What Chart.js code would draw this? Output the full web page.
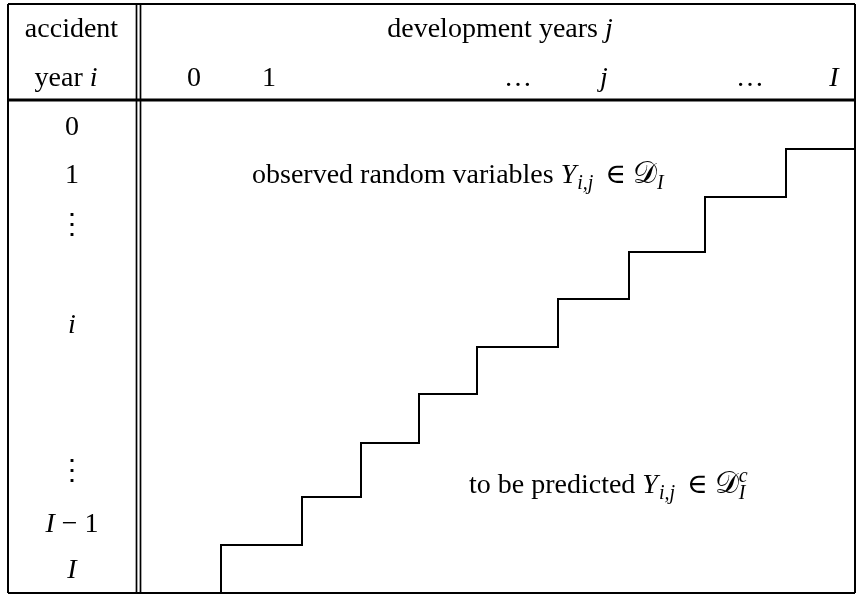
<!DOCTYPE html>
<html>
<head>
<meta charset="utf-8">
<script src="https://cdn.jsdelivr.net/npm/chart.js@4.4.0/dist/chart.umd.min.js"></script>
<style>
  html, body { margin: 0; padding: 0; background: #fff; }
  #wrap { width: 856px; height: 594px; }
</style>
</head>
<body>
<div id="wrap"><canvas id="triangle"></canvas></div>
<script>
// staircase corners: boundary between observed and to-be-predicted cells
var stepX = [221, 302, 361, 419, 477, 558, 629, 705, 786, 856];
var stepY = [593, 545, 497, 443, 394, 347, 299, 252, 197, 149];

// column headers (development years) and row headers (accident years)
var colLabels = [[['0', 'rm']], [['1', 'rm']], [['…', 'rm']], [['j', 'it']], [['…', 'rm']], [['I', 'it']]];
var colPos = [194, 269, 518, 604, 750, 834];
var rowLabels = [[['0', 'rm']], [['1', 'rm']], [['⋮', 'rm']], [['i', 'it']], [['⋮', 'rm']],
                 [['I', 'it'], [' − 1', 'rm']], [['I', 'it']]];
var rowPos = [135, 183, 233, 333, 479, 532, 578];

// table frame
var frameLeft = 8, frameRight = 855, frameTop = 4, frameBottom = 593;
var headRule = 100;
var stubRules = [136.5, 140.5];

var FONT = '"Liberation Serif", "DejaVu Serif", serif';
var SIZE = 28;

function fontFor(f, size) {
  if (f === 'it') return 'italic ' + size + 'px ' + FONT;
  if (f === 'cal') return size + 'px "DejaVu Serif", "DejaVu Sans", ' + FONT;
  return size + 'px ' + FONT;
}

// segs: [text, font, 'sub'|'sup', stacked, gapBefore]
function drawRich(ctx, segs, x0, base, align) {
  var x = 0, lastStart = 0, parts = [];
  segs.forEach(function (s) {
    var size = s[2] ? Math.round(SIZE * 0.72) : (s[1] === 'cal' ? SIZE + 2 : SIZE);
    var font = fontFor(s[1], size);
    ctx.font = font;
    var w = ctx.measureText(s[0]).width;
    var start = s[3] ? lastStart : x + (s[4] || 0);
    var dy = s[2] === 'sub' ? 6 : (s[2] === 'sup' ? -11 : 0);
    parts.push({ t: s[0], font: font, x: start, dy: dy });
    if (s[3]) { x = Math.max(x, start + w); } else { lastStart = start; x = start + w; }
  });
  var left = align === 'center' ? x0 - x / 2 : x0;
  ctx.textAlign = 'left';
  ctx.textBaseline = 'alphabetic';
  parts.forEach(function (p) {
    ctx.font = p.font;
    ctx.fillText(p.t, left + p.x, base + p.dy);
  });
}

var labelPlugin = {
  id: 'triangleLabels',
  afterDatasetsDraw: function (chart) {
    var ctx = chart.ctx, sx = chart.scales.x, sy = chart.scales.y;
    ctx.save();
    ctx.fillStyle = '#000';
    drawRich(ctx, [['accident', 'rm']], sx.getPixelForValue(71.5), sy.getPixelForValue(37), 'center');
    drawRich(ctx, [['year ', 'rm'], ['i', 'it']], sx.getPixelForValue(66), sy.getPixelForValue(86), 'center');
    drawRich(ctx, [['development years ', 'rm'], ['j', 'it']], sx.getPixelForValue(500), sy.getPixelForValue(37), 'center');
    colLabels.forEach(function (lab, k) {
      drawRich(ctx, lab, sx.getPixelForValue(colPos[k]), sy.getPixelForValue(86), 'center');
    });
    rowLabels.forEach(function (lab, k) {
      drawRich(ctx, lab, sx.getPixelForValue(72), sy.getPixelForValue(rowPos[k]), 'center');
    });
    drawRich(ctx, [['observed random variables ', 'rm'], ['Y', 'it'], ['i,j', 'it', 'sub', false, 1],
                   ['∈', 'rm', null, false, 12], ['𝒟', 'cal', null, false, 7], ['I', 'it', 'sub']],
             sx.getPixelForValue(252), sy.getPixelForValue(183), 'left');
    drawRich(ctx, [['to be predicted ', 'rm'], ['Y', 'it'], ['i,j', 'it', 'sub', false, 1],
                   ['∈', 'rm', null, false, 12], ['𝒟', 'cal', null, false, 7], ['I', 'it', 'sub'],
                   ['c', 'it', 'sup', true]],
             sx.getPixelForValue(469), sy.getPixelForValue(493), 'left');
    ctx.restore();
  }
};

function seg(x1, y1, x2, y2) {
  return [{ x: x1, y: y1 }, { x: x2, y: y2 }, { x: x2, y: null }];
}

var frameData = [].concat(
  seg(frameLeft, frameTop, frameRight, frameTop),
  seg(frameRight, frameTop, frameRight, frameBottom),
  seg(frameRight, frameBottom, frameLeft, frameBottom),
  seg(frameLeft, frameBottom, frameLeft, frameTop)
);
var stubData = [].concat(
  seg(stubRules[0], frameTop, stubRules[0], frameBottom),
  seg(stubRules[1], frameTop, stubRules[1], frameBottom)
);

var lineStyle = { showLine: true, pointRadius: 0, borderColor: '#000', fill: false, spanGaps: false, clip: false };

new Chart(document.getElementById('triangle'), {
  type: 'scatter',
  data: {
    datasets: [
      Object.assign({ label: 'frame', data: frameData, borderWidth: 2 }, lineStyle),
      Object.assign({ label: 'head', data: seg(frameLeft, headRule, frameRight, headRule), borderWidth: 3 }, lineStyle),
      Object.assign({ label: 'stub', data: stubData, borderWidth: 1.7 }, lineStyle),
      Object.assign({
        label: 'diagonal',
        data: stepX.map(function (x, k) { return { x: x, y: stepY[k] }; }),
        borderWidth: 2,
        stepped: 'after'
      }, lineStyle)
    ]
  },
  options: {
    responsive: true,
    maintainAspectRatio: false,
    animation: false,
    layout: { padding: 0 },
    plugins: { legend: { display: false }, tooltip: { enabled: false } },
    scales: {
      x: { type: 'linear', min: 0, max: 856, display: false },
      y: { type: 'linear', min: 0, max: 594, reverse: true, display: false }
    }
  },
  plugins: [labelPlugin]
});
</script>
</body>
</html>
